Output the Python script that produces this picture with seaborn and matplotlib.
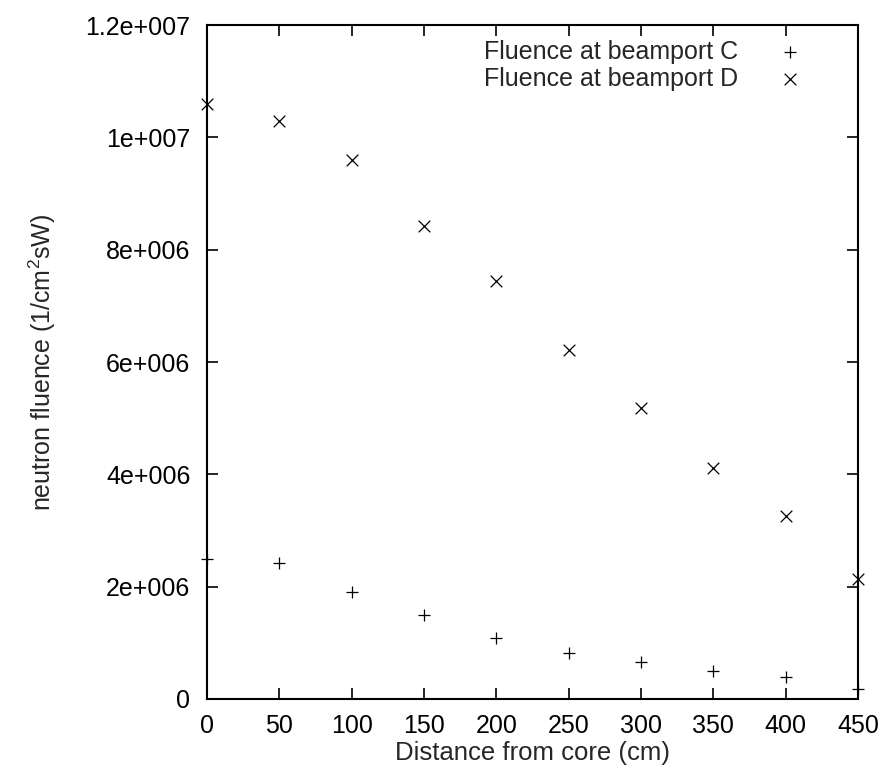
import matplotlib
matplotlib.use("Agg")
import matplotlib.pyplot as plt
import seaborn as sns
import pandas as pd

# ---- data ----
distance = [0, 50, 100, 150, 200, 250, 300, 350, 400, 450]
fluence_c = [2.50e6, 2.42e6, 1.90e6, 1.50e6, 1.08e6, 0.82e6, 0.65e6, 0.49e6, 0.39e6, 0.17e6]
fluence_d = [10.59e6, 10.29e6, 9.60e6, 8.43e6, 7.45e6, 6.22e6, 5.18e6, 4.12e6, 3.25e6, 2.14e6]
series_labels = ["Fluence at beamport C", "Fluence at beamport D"]
x_ticks = [0, 50, 100, 150, 200, 250, 300, 350, 400, 450]
y_ticks = [0, 2e6, 4e6, 6e6, 8e6, 10e6, 12e6]
y_tick_labels = ["0", "2e+006", "4e+006", "6e+006", "8e+006", "1e+007", "1.2e+007"]
x_label = "Distance from core (cm)"
y_label = r"neutron fluence (1/cm$^{2}$sW)"

sns.set_style("ticks")
plt.rcParams["font.family"] = ["Liberation Sans", "DejaVu Sans"]
plt.rcParams["mathtext.default"] = "regular"
plt.rcParams["mathtext.fontset"] = "custom"
plt.rcParams["mathtext.rm"] = "Liberation Sans"

FS = 18

fig = plt.figure(figsize=(8.85, 7.75), dpi=100)
ax = fig.add_axes([207 / 885, 76 / 775, 651 / 885, 674 / 775])

df_c = pd.DataFrame({"x": distance, "y": fluence_c})
df_d = pd.DataFrame({"x": distance, "y": fluence_d})

sns.scatterplot(data=df_c, x="x", y="y", ax=ax, marker="+", s=80, color="black",
                linewidth=0.9, label=series_labels[0], clip_on=False, zorder=3)
sns.scatterplot(data=df_d, x="x", y="y", ax=ax, marker="x", s=70, color="black",
                linewidth=0.9, label=series_labels[1], clip_on=False, zorder=3)

ax.set_xlim(0, 450)
ax.set_ylim(0, 1.2e7)
ax.set_xticks(x_ticks)
ax.set_xticklabels([str(t) for t in x_ticks])
ax.set_yticks(y_ticks)
ax.set_yticklabels(y_tick_labels)

ax.tick_params(axis="both", which="major", direction="in", length=8, width=1.2,
               top=True, right=True, labelsize=FS, colors="black")
ax.tick_params(axis="x", pad=11)
ax.tick_params(axis="y", pad=12)
for sp in ax.spines.values():
    sp.set_linewidth(1.5)
    sp.set_color("black")

ax.set_xlabel(x_label, fontsize=FS + 0.5, labelpad=2)
ax.set_ylabel(y_label, fontsize=FS, labelpad=20)

leg = ax.legend(loc="upper right", bbox_to_anchor=(0.938, 1.0), frameon=False,
                markerfirst=False, fontsize=FS, handletextpad=1.6,
                labelspacing=0.1, borderaxespad=0.2, handlelength=1.0)

fig.savefig("out.png", dpi=100, facecolor="white")
